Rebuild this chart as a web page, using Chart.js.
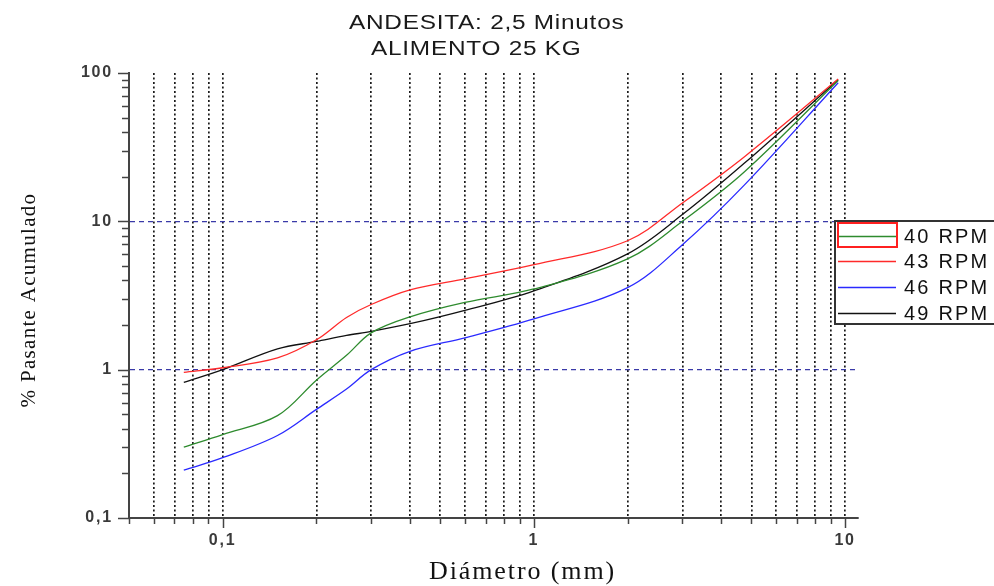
<!DOCTYPE html>
<html lang="es">
<head>
  <meta charset="UTF-8" />
  <title>ANDESITA: 2,5 Minutos</title>
  <script src="https://cdn.jsdelivr.net/npm/chart.js"></script>
  <style>
    body { margin: 0; background: #fff; }
    #wrap { width: 994px; height: 586px; }
  </style>
</head>
<body>
  <div id="wrap"><canvas id="curvas" width="994" height="586"></canvas></div>

  <script>
    // Diámetro de tamiz (mm)
    const diametro = [0.075, 0.1, 0.15, 0.2, 0.25, 0.3, 0.4, 0.6, 1, 2, 3, 4.75, 9.5];

    // % pasante acumulado por velocidad
    const rpm40 = [0.30, 0.365, 0.49, 0.85, 1.25, 1.77, 2.27, 2.84, 3.5, 5.58, 10, 21.6, 89];
    const rpm43 = [0.96, 1.03, 1.2, 1.59, 2.25, 2.75, 3.45, 4.1, 5.1, 7.4, 13.3, 27.3, 91];
    const rpm46 = [0.21, 0.255, 0.36, 0.54, 0.74, 1.0, 1.33, 1.64, 2.2, 3.57, 6.95, 17.6, 86];
    const rpm49 = [0.82, 1.0, 1.38, 1.55, 1.7, 1.81, 2.04, 2.51, 3.4, 6.04, 11.1, 24.7, 90];

    const etiquetas = ["40 RPM", "43 RPM", "46 RPM", "49 RPM"];
    const colores = ["#2e8b2e", "#ff2a2a", "#2a2aff", "#111111"];

    // ticks de los ejes logaritmicos
    const xTicks = [0.05, 0.06, 0.07, 0.08, 0.09, 0.1, 0.2, 0.3, 0.4, 0.5, 0.6, 0.7, 0.8, 0.9,
                    1, 2, 3, 4, 5, 6, 7, 8, 9, 10];
    const xEtiquetas = { 0.1: "0,1", 1: "1", 10: "10" };
    const yTicks = [0.1, 0.2, 0.3, 0.4, 0.5, 0.6, 0.7, 0.8, 0.9, 1, 2, 3, 4, 5, 6, 7, 8, 9,
                    10, 20, 30, 40, 50, 60, 70, 80, 90, 100];
    const yEtiquetas = { 0.1: "0,1", 1: "1", 10: "10", 100: "100" };
    const yLineas = [1, 10];

    const series = [rpm40, rpm43, rpm46, rpm49];
    const datasets = series.map((s, i) => ({
      label: etiquetas[i],
      data: s.map((v, j) => ({ x: diametro[j], y: v })),
      borderColor: colores[i],
      borderWidth: 1.3,
      pointRadius: 0,
      fill: false,
      tension: 0.35
    }));

    const esMayor = v => [0.1, 1, 10, 100].includes(v);

    // texto ensanchado horizontalmente
    function textoAncho(ctx, txt, x, y, k) {
      ctx.save();
      ctx.translate(x, y);
      ctx.scale(k, 1);
      ctx.fillText(txt, 0, 0);
      ctx.restore();
    }

    // textos, marcas de ticks y leyenda
    const extras = {
      id: "extras",
      beforeDraw(chart) {
        chart.ctx.letterSpacing = "1.8px";
      },
      afterDraw(chart) {
        const ctx = chart.ctx;
        const xs = chart.scales.x, ys = chart.scales.y;
        const area = chart.chartArea;

        ctx.save();
        ctx.strokeStyle = "#444";
        ctx.lineWidth = 1.5;
        ys.ticks.forEach(t => {
          const py = Math.round(ys.getPixelForValue(t.value)) + 0.5;
          const len = esMayor(t.value) ? 11 : 7;
          ctx.beginPath();
          ctx.moveTo(area.left - len, py);
          ctx.lineTo(area.left, py);
          ctx.stroke();
        });
        xs.ticks.forEach(t => {
          const px = Math.round(xs.getPixelForValue(t.value)) + 0.5;
          const len = esMayor(t.value) ? 10 : 6;
          ctx.beginPath();
          ctx.moveTo(px, area.bottom);
          ctx.lineTo(px, area.bottom + len);
          ctx.stroke();
        });

        // titulo
        ctx.fillStyle = "#1a1a1a";
        ctx.textAlign = "left";
        ctx.textBaseline = "alphabetic";
        ctx.font = "19.5px 'Liberation Sans'";
        ctx.letterSpacing = "0.6px";
        textoAncho(ctx, "ANDESITA: 2,5 Minutos", 349, 29, 1.25);
        textoAncho(ctx, "ALIMENTO 25 KG", 371, 55, 1.25);

        // titulos de ejes
        ctx.fillStyle = "#111";
        ctx.font = "26px 'Liberation Serif'";
        ctx.letterSpacing = "1.9px";
        ctx.fillText("Diámetro (mm)", 429, 579);

        ctx.save();
        ctx.translate(34.5, 300);
        ctx.rotate(-Math.PI / 2);
        ctx.textAlign = "center";
        ctx.font = "21px 'Liberation Serif'";
        ctx.letterSpacing = "1.3px";
        ctx.fillText("% Pasante Acumulado", 0, 0);
        ctx.restore();

        // leyenda
        ctx.fillStyle = "#fff";
        ctx.fillRect(835, 221, 170, 103);
        ctx.strokeStyle = "#333";
        ctx.lineWidth = 2;
        ctx.strokeRect(835, 221, 170, 103);
        const filas = [236, 261, 287, 313];
        const bases = [243, 268, 294, 320];
        ctx.font = "20px 'Liberation Sans'";
        ctx.letterSpacing = "2.2px";
        chart.data.datasets.forEach((d, i) => {
          ctx.strokeStyle = d.borderColor;
          ctx.lineWidth = 1.5;
          ctx.beginPath();
          ctx.moveTo(838, filas[i] + 0.5);
          ctx.lineTo(896, filas[i] + 0.5);
          ctx.stroke();
          ctx.fillStyle = "#111";
          ctx.fillText(d.label, 904, bases[i]);
        });
        ctx.strokeStyle = "#ff2020";
        ctx.lineWidth = 2;
        ctx.strokeRect(838, 223, 59, 24);

        ctx.restore();
        ctx.letterSpacing = "0px";
      }
    };

    Chart.defaults.font.family = "'Liberation Sans', Arial, sans-serif";

    new Chart(document.getElementById("curvas"), {
      type: "line",
      data: { datasets: datasets },
      plugins: [extras],
      options: {
        responsive: false,
        animation: false,
        devicePixelRatio: 1,
        layout: { padding: { top: 73, right: 136, left: 0, bottom: 0 } },
        plugins: {
          legend: { display: false },
          title: { display: false },
          tooltip: { enabled: false }
        },
        scales: {
          x: {
            type: "logarithmic",
            min: 0.05,
            max: 11,
            afterBuildTicks: s => { s.ticks = xTicks.map(v => ({ value: v })); },
            afterFit: s => { s.height = 68; },
            ticks: {
              autoSkip: false,
              maxRotation: 0,
              padding: 13,
              color: "#3a3a3a",
              font: { size: 16, weight: "bold" },
              callback: v => xEtiquetas[v] || ""
            },
            grid: {
              drawTicks: false,
              lineWidth: 1.7,
              color: c => (c.tick && c.tick.value === 0.05) ? "rgba(0,0,0,0)" : "#1a1a1a"
            },
            border: { display: true, color: "#444", width: 2, dash: [2, 2.5] }
          },
          y: {
            type: "logarithmic",
            min: 0.1,
            max: 100,
            afterBuildTicks: s => { s.ticks = yTicks.map(v => ({ value: v })); },
            afterFit: s => { s.width = 129; },
            ticks: {
              autoSkip: false,
              padding: 16,
              color: "#3a3a3a",
              font: { size: 16, weight: "bold" },
              callback: v => yEtiquetas[v] || ""
            },
            grid: {
              drawTicks: false,
              lineWidth: 1.2,
              color: c => (c.tick && yLineas.includes(c.tick.value)) ? "#3a3aa8" : "rgba(0,0,0,0)"
            },
            border: { display: true, color: "#444", width: 2, dash: [5, 4] }
          }
        }
      }
    });
  </script>
</body>
</html>
